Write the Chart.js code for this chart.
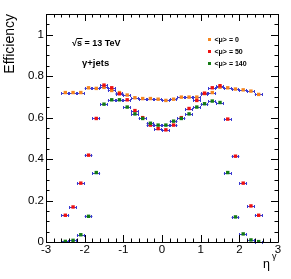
<!DOCTYPE html>
<html>
<head>
<meta charset="utf-8">
<script src="https://cdn.jsdelivr.net/npm/chart.js@4/dist/chart.umd.min.js"></script>
<style>
  html, body { margin: 0; padding: 0; background: #fff; }
  #wrap { position: relative; width: 291px; height: 279px; }
</style>
</head>
<body>
<div id="wrap"><canvas id="effChart" width="291" height="279"></canvas></div>
<script>
// --- Data ---

const etaBins = [-2.5, -2.3, -2.1, -1.9, -1.7, -1.5, -1.3, -1.1, -0.9, -0.7, -0.5, -0.3, -0.1,
  0.1, 0.3, 0.5, 0.7, 0.9, 1.1, 1.3, 1.5, 1.7, 1.9, 2.1, 2.3, 2.5];
const binHalfWidth = 0.1;

const effMu0 = [0.721, 0.721, 0.721, 0.744, 0.741, 0.746, 0.731, 0.721, 0.709, 0.696, 0.692, 0.692, 0.689,
  0.683, 0.689, 0.699, 0.699, 0.699, 0.716, 0.721, 0.747, 0.744, 0.738, 0.734, 0.728, 0.712];
const effMu50 = [0.129, 0.169, 0.284, 0.419, 0.596, 0.757, 0.744, 0.715, 0.686, 0.634, 0.600, 0.564, 0.547,
  0.541, 0.564, 0.600, 0.644, 0.683, 0.718, 0.744, 0.754, 0.593, 0.414, 0.284, 0.174, 0.129];
const effMu140 = [0.003, 0.008, 0.035, 0.124, 0.335, 0.665, 0.686, 0.686, 0.651, 0.618, 0.596, 0.573, 0.564,
  0.564, 0.583, 0.596, 0.618, 0.651, 0.667, 0.680, 0.673, 0.335, 0.121, 0.039, 0.010, 0.002];

const seriesLabels = ["<μ> = 0", "<μ> = 50", "<μ> = 140"];
const seriesColors = ["#f5861f", "#ee1111", "#147a14"];

const xTickValues = [-3, -2, -1, 0, 1, 2, 3];
const yTickValues = [0, 0.2, 0.4, 0.6, 0.8, 1];

const FONT = "'Liberation Sans', Arial, sans-serif";

// --- Plugins ---

// horizontal bin-width error bars with end caps
const errorBars = {
  id: "errorBars",
  beforeDatasetsDraw(chart) {
    const { ctx, scales: { x, y } } = chart;
    ctx.save();
    ctx.strokeStyle = "#3a3ad0";
    ctx.lineWidth = 1;
    chart.data.datasets.forEach((ds) => {
      ds.data.forEach((p) => {
        const x1 = x.getPixelForValue(p.x - binHalfWidth);
        const x2 = x.getPixelForValue(p.x + binHalfWidth);
        const py = Math.round(y.getPixelForValue(p.y)) + 0.5;
        ctx.beginPath();
        ctx.moveTo(x1, py);
        ctx.lineTo(x2, py);
        ctx.moveTo(Math.round(x1) + 0.5, py - 1.5);
        ctx.lineTo(Math.round(x1) + 0.5, py + 1.5);
        ctx.moveTo(Math.round(x2) - 0.5, py - 1.5);
        ctx.lineTo(Math.round(x2) - 0.5, py + 1.5);
        ctx.stroke();
      });
    });
    ctx.restore();
  },
};

// ROOT-like frame with inward ticks on all sides, plus the text labels
const rootFrame = {
  id: "rootFrame",
  afterDraw(chart) {
    const { ctx, chartArea: a, scales: { x, y } } = chart;
    ctx.save();
    ctx.strokeStyle = "#000";
    ctx.lineWidth = 1;
    ctx.beginPath();
    ctx.rect(a.left + 0.5, a.top + 0.5, a.right - a.left, a.bottom - a.top);
    ctx.stroke();

    ctx.beginPath();
    for (let i = 0; i <= 30; i++) {
      const v = -3 + i * 0.2;
      const px = Math.round(x.getPixelForValue(v)) + 0.5;
      const len = i % 5 === 0 ? 7 : 3.5;
      ctx.moveTo(px, a.bottom);
      ctx.lineTo(px, a.bottom - len);
      ctx.moveTo(px, a.top);
      ctx.lineTo(px, a.top + len);
    }
    for (let i = 0; i <= 22; i++) {
      const v = i * 0.05;
      const py = Math.round(y.getPixelForValue(v)) + 0.5;
      const len = i % 4 === 0 ? 7 : 3.5;
      ctx.moveTo(a.left, py);
      ctx.lineTo(a.left + len, py);
      ctx.moveTo(a.right, py);
      ctx.lineTo(a.right - len, py);
    }
    ctx.stroke();

    // x axis title
    ctx.fillStyle = "#000";
    ctx.textBaseline = "alphabetic";
    ctx.textAlign = "left";
    ctx.font = `12.5px ${FONT}`;
    ctx.fillText("η", 263, 268);
    ctx.font = `9px ${FONT}`;
    ctx.fillText("γ", 272, 259);

    // energy / sample label
    ctx.font = `bold 9px ${FONT}`;
    const sq = "√";
    ctx.fillText(sq + "s = 13 TeV", 72, 46);
    const wSq = ctx.measureText(sq).width;
    const wS = ctx.measureText("s").width;
    ctx.beginPath();
    ctx.moveTo(72 + wSq - 0.5, 38.5);
    ctx.lineTo(72 + wSq + wS + 0.5, 38.5);
    ctx.stroke();
    ctx.font = `bold 9.5px ${FONT}`;
    ctx.fillText("γ+jets", 82, 66);

    // legend
    ctx.font = `bold 7px ${FONT}`;
    ctx.textBaseline = "middle";
    const rows = [39.5, 51.5, 63.5];
    seriesLabels.forEach((lab, i) => {
      ctx.fillStyle = seriesColors[i];
      ctx.fillRect(208, rows[i] - 1.5, 3, 3);
      ctx.fillStyle = "#000";
      ctx.fillText(lab, 214.5, rows[i] + 0.5);
    });
    ctx.restore();
  },
};

// --- Chart ---

const toPoints = (vals) => etaBins.map((eta, i) => ({ x: eta, y: vals[i] }));

new Chart(document.getElementById("effChart"), {
  type: "scatter",
  data: {
    datasets: [
      { label: seriesLabels[0], data: toPoints(effMu0), order: 3 },
      { label: seriesLabels[1], data: toPoints(effMu50), order: 2 },
      { label: seriesLabels[2], data: toPoints(effMu140), order: 1 },
    ].map((ds, i) => ({
      ...ds,
      pointStyle: "rect",
      pointRadius: 2.4,
      borderWidth: 0,
      backgroundColor: seriesColors[i],
      borderColor: seriesColors[i],
    })),
  },
  options: {
    responsive: false,
    animation: false,
    devicePixelRatio: 1,
    layout: { padding: { top: 14, right: 13, left: 0, bottom: 0 } },
    plugins: {
      legend: { display: false },
      tooltip: { enabled: false },
    },
    scales: {
      x: {
        type: "linear",
        min: -3,
        max: 3,
        afterBuildTicks: (scale) => {
          scale.ticks = xTickValues.map((v) => ({ value: v }));
        },
        afterFit: (scale) => {
          scale.height = 37;
        },
        ticks: {
          font: { family: FONT, size: 11.5 },
          color: "#000",
          padding: 1,
          maxRotation: 0,
          autoSkip: false,
          callback: (v) => String(v),
        },
        grid: { display: false, drawTicks: false },
        border: { display: false },
      },
      y: {
        type: "linear",
        min: 0,
        max: 1.1,
        afterBuildTicks: (scale) => {
          scale.ticks = yTickValues.map((v) => ({ value: v }));
        },
        afterFit: (scale) => {
          scale.width = 46;
        },
        ticks: {
          font: { family: FONT, size: 11.5 },
          color: "#000",
          padding: 2,
          autoSkip: false,
          callback: (v) => String(v),
        },
        grid: { display: false, drawTicks: false },
        border: { display: false },
        title: {
          display: true,
          text: "Efficiency",
          align: "end",
          color: "#000",
          font: { family: FONT, size: 14 },
          padding: { top: 2, bottom: 0 },
        },
      },
    },
  },
  plugins: [errorBars, rootFrame],
});
</script>
</body>
</html>
